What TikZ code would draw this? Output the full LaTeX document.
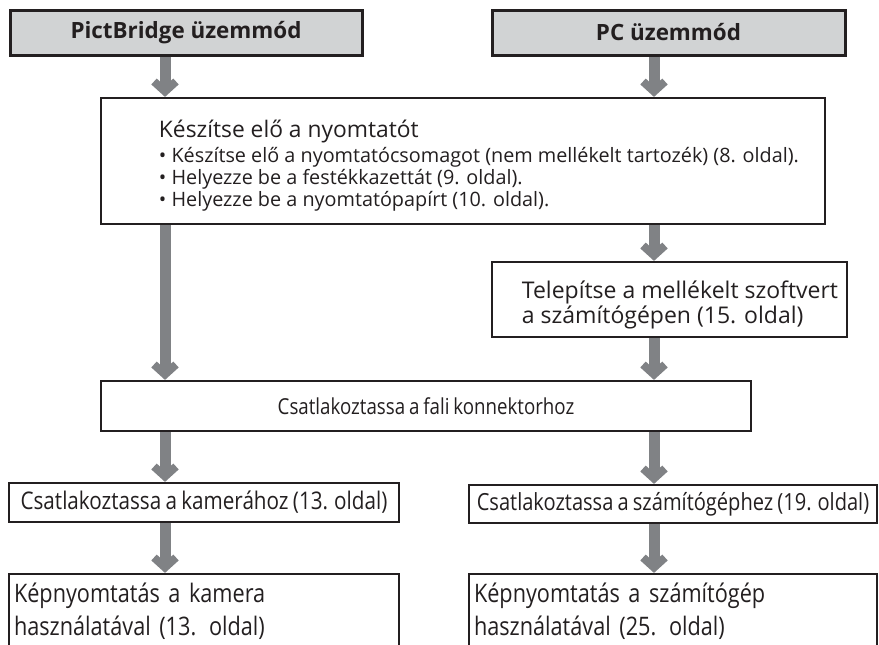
\documentclass[tikz,border=0pt]{standalone}
\usepackage{fontspec}
\setmainfont{Open Sans}
\newfontfamily\condfont[FakeStretch=0.85,WordSpace=0.8]{Open Sans}
\usetikzlibrary{arrows.meta}
\definecolor{ink}{HTML}{231F20}
\definecolor{hdrgray}{HTML}{D1D3D4}
\definecolor{flowgray}{HTML}{808285}

\begin{document}
\begin{tikzpicture}[x=1pt,y=-1pt,
  hdr/.style={draw=ink,line width=3pt,fill=hdrgray,text=ink,minimum height=45pt,
    font=\fontsize{22.4}{26}\selectfont\bfseries},
  blk/.style={draw=ink,line width=2.2pt,fill=white,text=ink,inner sep=0pt},
  cnd/.style={font=\condfont\fontsize{#1}{33}\selectfont},
  flow/.style={draw=flowgray,line width=11pt,
    -{Straight Barb[length=10pt,width=22pt,line width=8pt]}}]
\useasboundingbox (0,0) rectangle (879,645);
\clip (0,0) rectangle (879,645);
% the two lanes of arrows
\coordinate (lx) at (165,0);
\coordinate (rx) at (654,0);
\node[hdr,minimum width=352pt] (pb) at (186,32.5) {PictBridge üzemmód};
\node[hdr,minimum width=353pt] (pc) at (668.5,32.5) {PC üzemmód};
\node[blk,minimum width=724pt,minimum height=126pt,align=left,
  font=\fontsize{19.8}{22}\selectfont] (prep) at (463,161)
  {\rule{0pt}{26pt}\hspace*{32pt}{\fontsize{22.8}{26}\selectfont Készítse elő a nyomtatót}\\[3pt]
   \hspace*{32pt}• Készítse elő a nyomtatócsomagot (nem mellékelt tartozék) (8. oldal).\\
   \hspace*{32pt}• Helyezze be a festékkazettát (9. oldal).\\
   \hspace*{32pt}• Helyezze be a nyomtatópapírt (10. oldal).};
\node[blk,minimum width=355pt,minimum height=75pt,align=left,
  font=\fontsize{23}{25}\selectfont] (inst) at (669.5,299.5)
  {\rule{0pt}{28pt}\hspace*{21pt}Telepítse a mellékelt szoftvert\\
   \hspace*{21pt}a számítógépen (15. oldal)};
\node[blk,cnd=22,minimum width=650pt,minimum height=50pt] (wall) at (426,406)
  {Csatlakoztassa a fali konnektorhoz};
\node[blk,cnd=24.3,minimum width=390pt,minimum height=39pt] (cam) at (204,502.5)
  {Csatlakoztassa a kamerához (13. oldal)};
\node[blk,cnd=23.6,minimum width=408pt,minimum height=38pt] (pcconn) at (673,504)
  {Csatlakoztassa a számítógéphez (19. oldal)};
\node[blk,cnd=25.5,minimum width=390pt,minimum height=75pt,inner xsep=5pt,
  text width=380pt,align=left] (camprint) at (204,611.5)
  {Képnyomtatás a kamera\\ használatával (13. oldal)};
\node[blk,cnd=25.5,minimum width=408pt,minimum height=75pt,inner xsep=5pt,
  text width=398pt,align=left] (pcprint) at (673,611.5)
  {Képnyomtatás a számítógép\\ használatával (25. oldal)};
\draw[flow] (pb.south -| lx) -- (prep.north -| lx);
\draw[flow] (pc.south -| rx) -- (prep.north -| rx);
\draw[flow] (prep.south -| lx) -- (wall.north -| lx);
\draw[flow] (prep.south -| rx) -- (inst.north -| rx);
\draw[flow] (inst.south -| rx) -- (wall.north -| rx);
\draw[flow] (wall.south -| lx) -- (cam.north -| lx);
\draw[flow] (wall.south -| rx) -- (pcconn.north -| rx);
\draw[flow] (cam.south -| lx) -- (camprint.north -| lx);
\draw[flow] (pcconn.south -| rx) -- (pcprint.north -| rx);
\end{tikzpicture}
\end{document}
